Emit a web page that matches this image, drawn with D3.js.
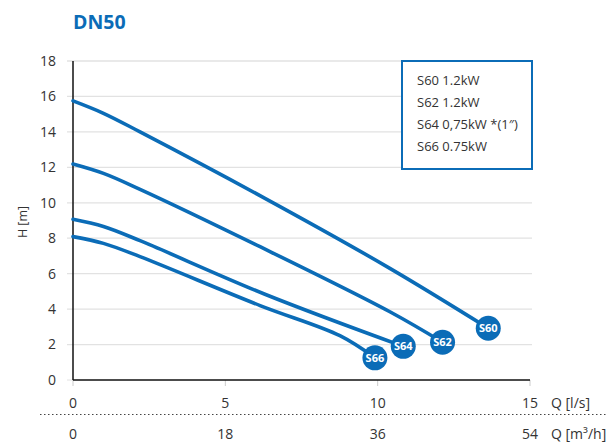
<!DOCTYPE html>
<html><head><meta charset="utf-8">
<script src="https://cdn.jsdelivr.net/npm/d3@7"></script>
<style>body{margin:0;background:#fff;font-family:"Open Sans",sans-serif;}</style>
</head><body><svg id="c" width="607" height="444"></svg>
<script>
const title = "DN50";
const yTicks = [0,2,4,6,8,10,12,14,16,18];
const xTicksLs = [0,5,10,15];
const xTicksM3h = ["0","18","36","54"];
const seriesNames = ["S60","S62","S64","S66"];
const legendLabels = ["S60 1.2kW","S62 1.2kW","S64 0,75kW *(1″)","S66 0.75kW"];
const s60 = [[0,15.75],[1,15.05],[2.2,14.0],[6.3,10.25],[10.4,6.3],[13.63,2.92]];
const s62 = [[0,12.19],[1,11.66],[2.2,10.76],[6.14,7.52],[10.4,3.85],[12.13,2.13]];
const s64 = [[0,9.07],[1,8.66],[2.2,7.86],[6.3,4.84],[10.84,1.9]];
const s66 = [[0,8.09],[1,7.71],[2.2,6.96],[6.14,4.2],[8.76,2.5],[9.91,1.25]];
const seriesData = [s60,s62,s64,s66];

const blue = "#0b6cb7";
const svg = d3.select("#c");
const x = d3.scaleLinear().domain([0,15]).range([73,530]);
const y = d3.scaleLinear().domain([0,18]).range([380,61]);

svg.append("text").attr("x",73).attr("y",29).attr("fill",blue)
  .attr("font-size",19.5).attr("font-weight",700).text(title);

svg.append("g").selectAll("line").data(yTicks.filter(d=>d>0)).join("line")
  .attr("x1",67).attr("x2",532).attr("y1",d=>y(d)).attr("y2",d=>y(d))
  .attr("stroke","#e2e2e2").attr("stroke-width",1.3);
svg.append("line").attr("x1",67).attr("x2",73).attr("y1",y(0)).attr("y2",y(0)).attr("stroke","#e2e2e2");

svg.append("g").selectAll("text").data(yTicks).join("text")
  .attr("x",56).attr("y",d=>y(d)).attr("dy","0.35em").attr("text-anchor","end")
  .attr("font-size",14).attr("fill","#333").text(d=>d);

svg.append("text").attr("transform","translate(27,222) rotate(-90)")
  .attr("text-anchor","middle").attr("font-size",12.5).attr("fill","#333").text("H [m]");

svg.append("g").selectAll("line").data(xTicksLs).join("line")
  .attr("x1",d=>x(d)).attr("x2",d=>x(d)).attr("y1",380).attr("y2",386)
  .attr("stroke","#ccc");

svg.append("line").attr("x1",x(0)).attr("x2",x(0)).attr("y1",y(18)).attr("y2",y(0)).attr("stroke","#111").attr("stroke-width",1.5);
svg.append("line").attr("x1",x(0)).attr("x2",x(15)).attr("y1",y(0)).attr("y2",y(0)).attr("stroke","#111").attr("stroke-width",1.5);

svg.append("g").selectAll("text").data(xTicksLs).join("text")
  .attr("x",d=>x(d)).attr("y",408).attr("text-anchor","middle")
  .attr("font-size",14).attr("fill","#333").text(d=>d);
svg.append("text").attr("x",551).attr("y",408).attr("font-size",14).attr("fill","#333").text("Q [l/s]");

svg.append("line").attr("x1",40).attr("x2",607).attr("y1",414.5).attr("y2",414.5)
  .attr("stroke","#444").attr("stroke-dasharray","1.5,2.5");

svg.append("g").selectAll("text").data(xTicksM3h).join("text")
  .attr("x",(d,i)=>x(xTicksLs[i])).attr("y",439).attr("text-anchor","middle")
  .attr("font-size",14).attr("fill","#333").text(d=>d);
svg.append("text").attr("x",551).attr("y",439).attr("font-size",14).attr("fill","#333").text("Q [m³/h]");

const line = d3.line().x(d=>x(d[0])).y(d=>y(d[1])).curve(d3.curveCatmullRom.alpha(0.5));
svg.append("g").selectAll("path").data(seriesData).join("path")
  .attr("d",line).attr("fill","none").attr("stroke",blue).attr("stroke-width",3.6)
  .attr("stroke-linecap","round");

const ends = svg.append("g").selectAll("g").data(seriesData).join("g")
  .attr("transform",d=>`translate(${x(d[d.length-1][0])},${y(d[d.length-1][1])})`);
ends.append("circle").attr("r",12.5).attr("fill",blue);
ends.append("text").attr("text-anchor","middle").attr("dy","0.36em")
  .attr("font-size",11).attr("font-weight",700).attr("fill","#fff")
  .text((d,i)=>seriesNames[i]);

svg.append("rect").attr("x",402).attr("y",61).attr("width",130).attr("height",108)
  .attr("fill","#fff").attr("stroke",blue).attr("stroke-width",2);
svg.append("g").selectAll("text").data(legendLabels).join("text")
  .attr("x",417).attr("y",(d,i)=>80+i*22.3).attr("dy","0.35em")
  .attr("font-size",13).attr("fill","#333").text(d=>d);
</script></body></html>
